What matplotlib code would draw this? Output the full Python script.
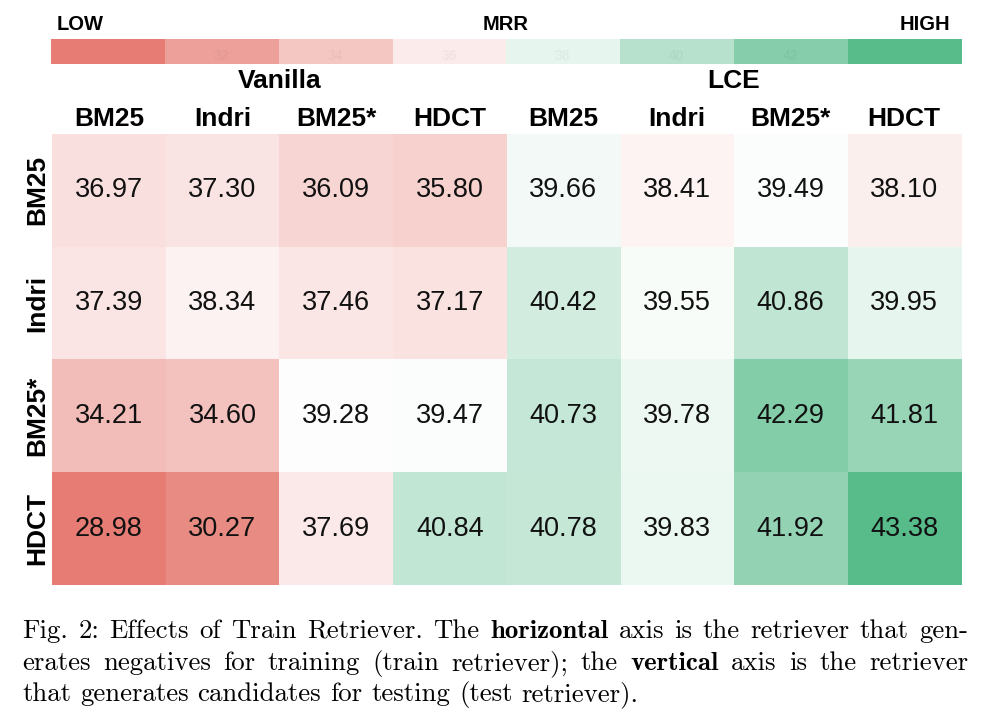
import numpy as np
import matplotlib
matplotlib.use("Agg")
import matplotlib.pyplot as plt
from matplotlib.colors import LinearSegmentedColormap, TwoSlopeNorm

# ----------
# DONNEES

test_retrievers = ["BM25", "Indri", "BM25*", "HDCT"]
train_retrievers = ["BM25", "Indri", "BM25*", "HDCT", "BM25", "Indri", "BM25*", "HDCT"]
groups = ["Vanilla", "LCE"]

mrr_bm25 = [36.97, 37.30, 36.09, 35.80, 39.66, 38.41, 39.49, 38.10]
mrr_indri = [37.39, 38.34, 37.46, 37.17, 40.42, 39.55, 40.86, 39.95]
mrr_bm25s = [34.21, 34.60, 39.28, 39.47, 40.73, 39.78, 42.29, 41.81]
mrr_hdct = [28.98, 30.27, 37.69, 40.84, 40.78, 39.83, 41.92, 43.38]

cbar_values = [30, 32, 34, 36, 38, 40, 42, 44]
cbar_labels = ["", "32", "34", "36", "38", "40", "42", ""]

caption = [
    [("Fig. 2: Effects of Train Retriever. The", False), ("horizontal", True),
     ("axis is the retriever that gen-", False)],
    [("erates negatives for training (train retriever); the", False), ("vertical", True),
     ("axis is the retriever", False)],
    [("that generates candidates for testing (test retriever).", False)],
]

# ---------
# FIGURE

plt.rcParams['font.family'] = ['Liberation Sans', 'DejaVu Sans']

W, H = 997, 712
fig = plt.figure(figsize=(W / 100, H / 100), dpi=100)

data = np.array([mrr_bm25, mrr_indri, mrr_bm25s, mrr_hdct])
cmap = LinearSegmentedColormap.from_list("sheets", ["#E67C73", "#FFFFFF", "#57BB8A"])
norm = TwoSlopeNorm(vmin=data.min(), vcenter=np.median(data), vmax=data.max())

# heatmap
ax = fig.add_axes([52 / W, 1 - 585 / H, 909 / W, 451 / H])
ax.imshow(data, cmap=cmap, norm=norm, aspect="auto")
for i in range(data.shape[0]):
    for j in range(data.shape[1]):
        ax.text(j, i, f"{data[i, j]:.2f}", ha="center", va="center",
                fontsize=19.5, color="#111111")

ax.xaxis.tick_top()
ax.set_xticks(range(len(train_retrievers)))
ax.set_xticklabels(train_retrievers, fontsize=19, fontweight="bold")
ax.set_yticks(range(len(test_retrievers)))
ax.set_yticklabels(test_retrievers, fontsize=19, fontweight="bold",
                   rotation=90, va="center")
ax.tick_params(length=0, pad=2)
for s in ax.spines.values():
    s.set_visible(False)

for k, g in enumerate(groups):
    ax.text(1.5 + 4 * k, -0.97, g, ha="center", va="center",
            fontsize=19, fontweight="bold")

# barre de couleur
cax = fig.add_axes([51 / W, 1 - 64 / H, 910 / W, 25 / H])
cax.imshow([cbar_values], cmap=cmap, vmin=min(cbar_values), vmax=max(cbar_values),
           aspect="auto", extent=(29, 45, 0, 1))
for v, lab in zip(cbar_values, cbar_labels):
    cax.text(v, 0.3, lab, ha="center", va="center", fontsize=10,
             color="black", alpha=0.035, fontweight="bold")
cax.set_axis_off()

fig.text(57 / W, 1 - 25 / H, "LOW", ha="left", va="center", fontsize=14.5, fontweight="bold")
fig.text(506 / W, 1 - 25 / H, "MRR", ha="center", va="center", fontsize=14.5, fontweight="bold")
fig.text(950 / W, 1 - 25 / H, "HIGH", ha="right", va="center", fontsize=14.5, fontweight="bold")

# legende (texte justifie)
renderer = fig.canvas.get_renderer()
fs = 19.3
x_left, x_right = 22, 968
baselines = [638, 670, 701]


def largeur(txt, bold):
    t = fig.text(0, 0, txt, fontsize=fs, family="cmb10" if bold else "cmr10")
    w = t.get_window_extent(renderer).width
    t.remove()
    return w


for n, line in enumerate(caption):
    words = []
    for seg, bold in line:
        words += [(w, bold) for w in seg.split(" ")]
    widths = [largeur(w, b) for w, b in words]
    if n < len(caption) - 1:
        gap = (x_right - x_left - sum(widths)) / (len(words) - 1)
    else:
        gap = fs * 100 / 72 * 0.333
    x = x_left
    for (w, b), wd in zip(words, widths):
        fig.text(x / W, 1 - baselines[n] / H, w, fontsize=fs, va="baseline",
                 family="cmb10" if b else "cmr10")
        x += wd + gap

fig.savefig("out.png", dpi=100)
